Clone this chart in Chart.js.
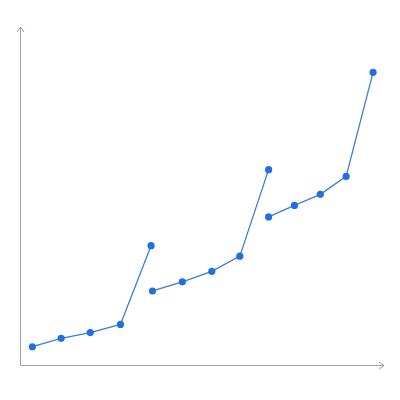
<!DOCTYPE html>
<html>
<head>
<meta charset="utf-8">
<script src="https://cdn.jsdelivr.net/npm/chart.js@4"></script>
<style>
  html, body { margin: 0; padding: 0; background: #fff; }
  #wrap { width: 400px; height: 400px; }
</style>
</head>
<body>
<div id="wrap"><canvas id="chart"></canvas></div>
<script>
// three separate runs (x and y on a 0-100 scale)
const xA = [3.4, 11.3, 19.3, 27.6, 36.0];
const yA = [5.4, 7.9, 9.6, 12.0, 35.3];
const xB = [36.4, 44.6, 52.7, 60.4, 68.3];
const yB = [21.9, 24.6, 27.7, 32.2, 57.8];
const xC = [68.3, 75.4, 82.5, 89.6, 97.0];
const yC = [43.8, 47.2, 50.5, 55.8, 86.6];

const lineColor = '#3b7fd4';
const dotColor = '#2270e0';

function toPoints(xs, ys) {
    return xs.map((x, i) => ({ x: x, y: ys[i] }));
}

function series(xs, ys) {
    return {
        data: toPoints(xs, ys),
        borderColor: lineColor,
        borderWidth: 1.3,
        pointRadius: 3.6,
        pointBackgroundColor: dotColor,
        pointBorderWidth: 0,
        tension: 0
    };
}

// plain axes with open arrow heads
const arrowAxes = {
    id: 'arrowAxes',
    afterDraw(chart) {
        const c = chart.ctx;
        const a = chart.chartArea;
        c.save();
        c.strokeStyle = '#a0a0a0';
        c.lineWidth = 1;
        c.beginPath();
        c.moveTo(a.left + 0.5, a.top);
        c.lineTo(a.left + 0.5, a.bottom + 0.5);
        c.lineTo(a.right, a.bottom + 0.5);
        // y arrow
        c.moveTo(a.left + 0.5 - 3.5, a.top + 5);
        c.lineTo(a.left + 0.5, a.top);
        c.lineTo(a.left + 0.5 + 3.5, a.top + 5);
        // x arrow
        c.moveTo(a.right - 5, a.bottom + 0.5 - 3.5);
        c.lineTo(a.right, a.bottom + 0.5);
        c.lineTo(a.right - 5, a.bottom + 0.5 + 3.5);
        c.stroke();
        c.restore();
    }
};

new Chart(document.getElementById('chart'), {
    type: 'line',
    data: {
        datasets: [series(xA, yA), series(xB, yB), series(xC, yC)]
    },
    options: {
        responsive: true,
        maintainAspectRatio: false,
        animation: false,
        layout: { padding: { left: 20, right: 16, top: 27, bottom: 35 } },
        plugins: {
            legend: { display: false },
            tooltip: { enabled: false }
        },
        scales: {
            x: { type: 'linear', min: 0, max: 100, display: false },
            y: { type: 'linear', min: 0, max: 100, display: false }
        }
    },
    plugins: [arrowAxes]
});
</script>
</body>
</html>
